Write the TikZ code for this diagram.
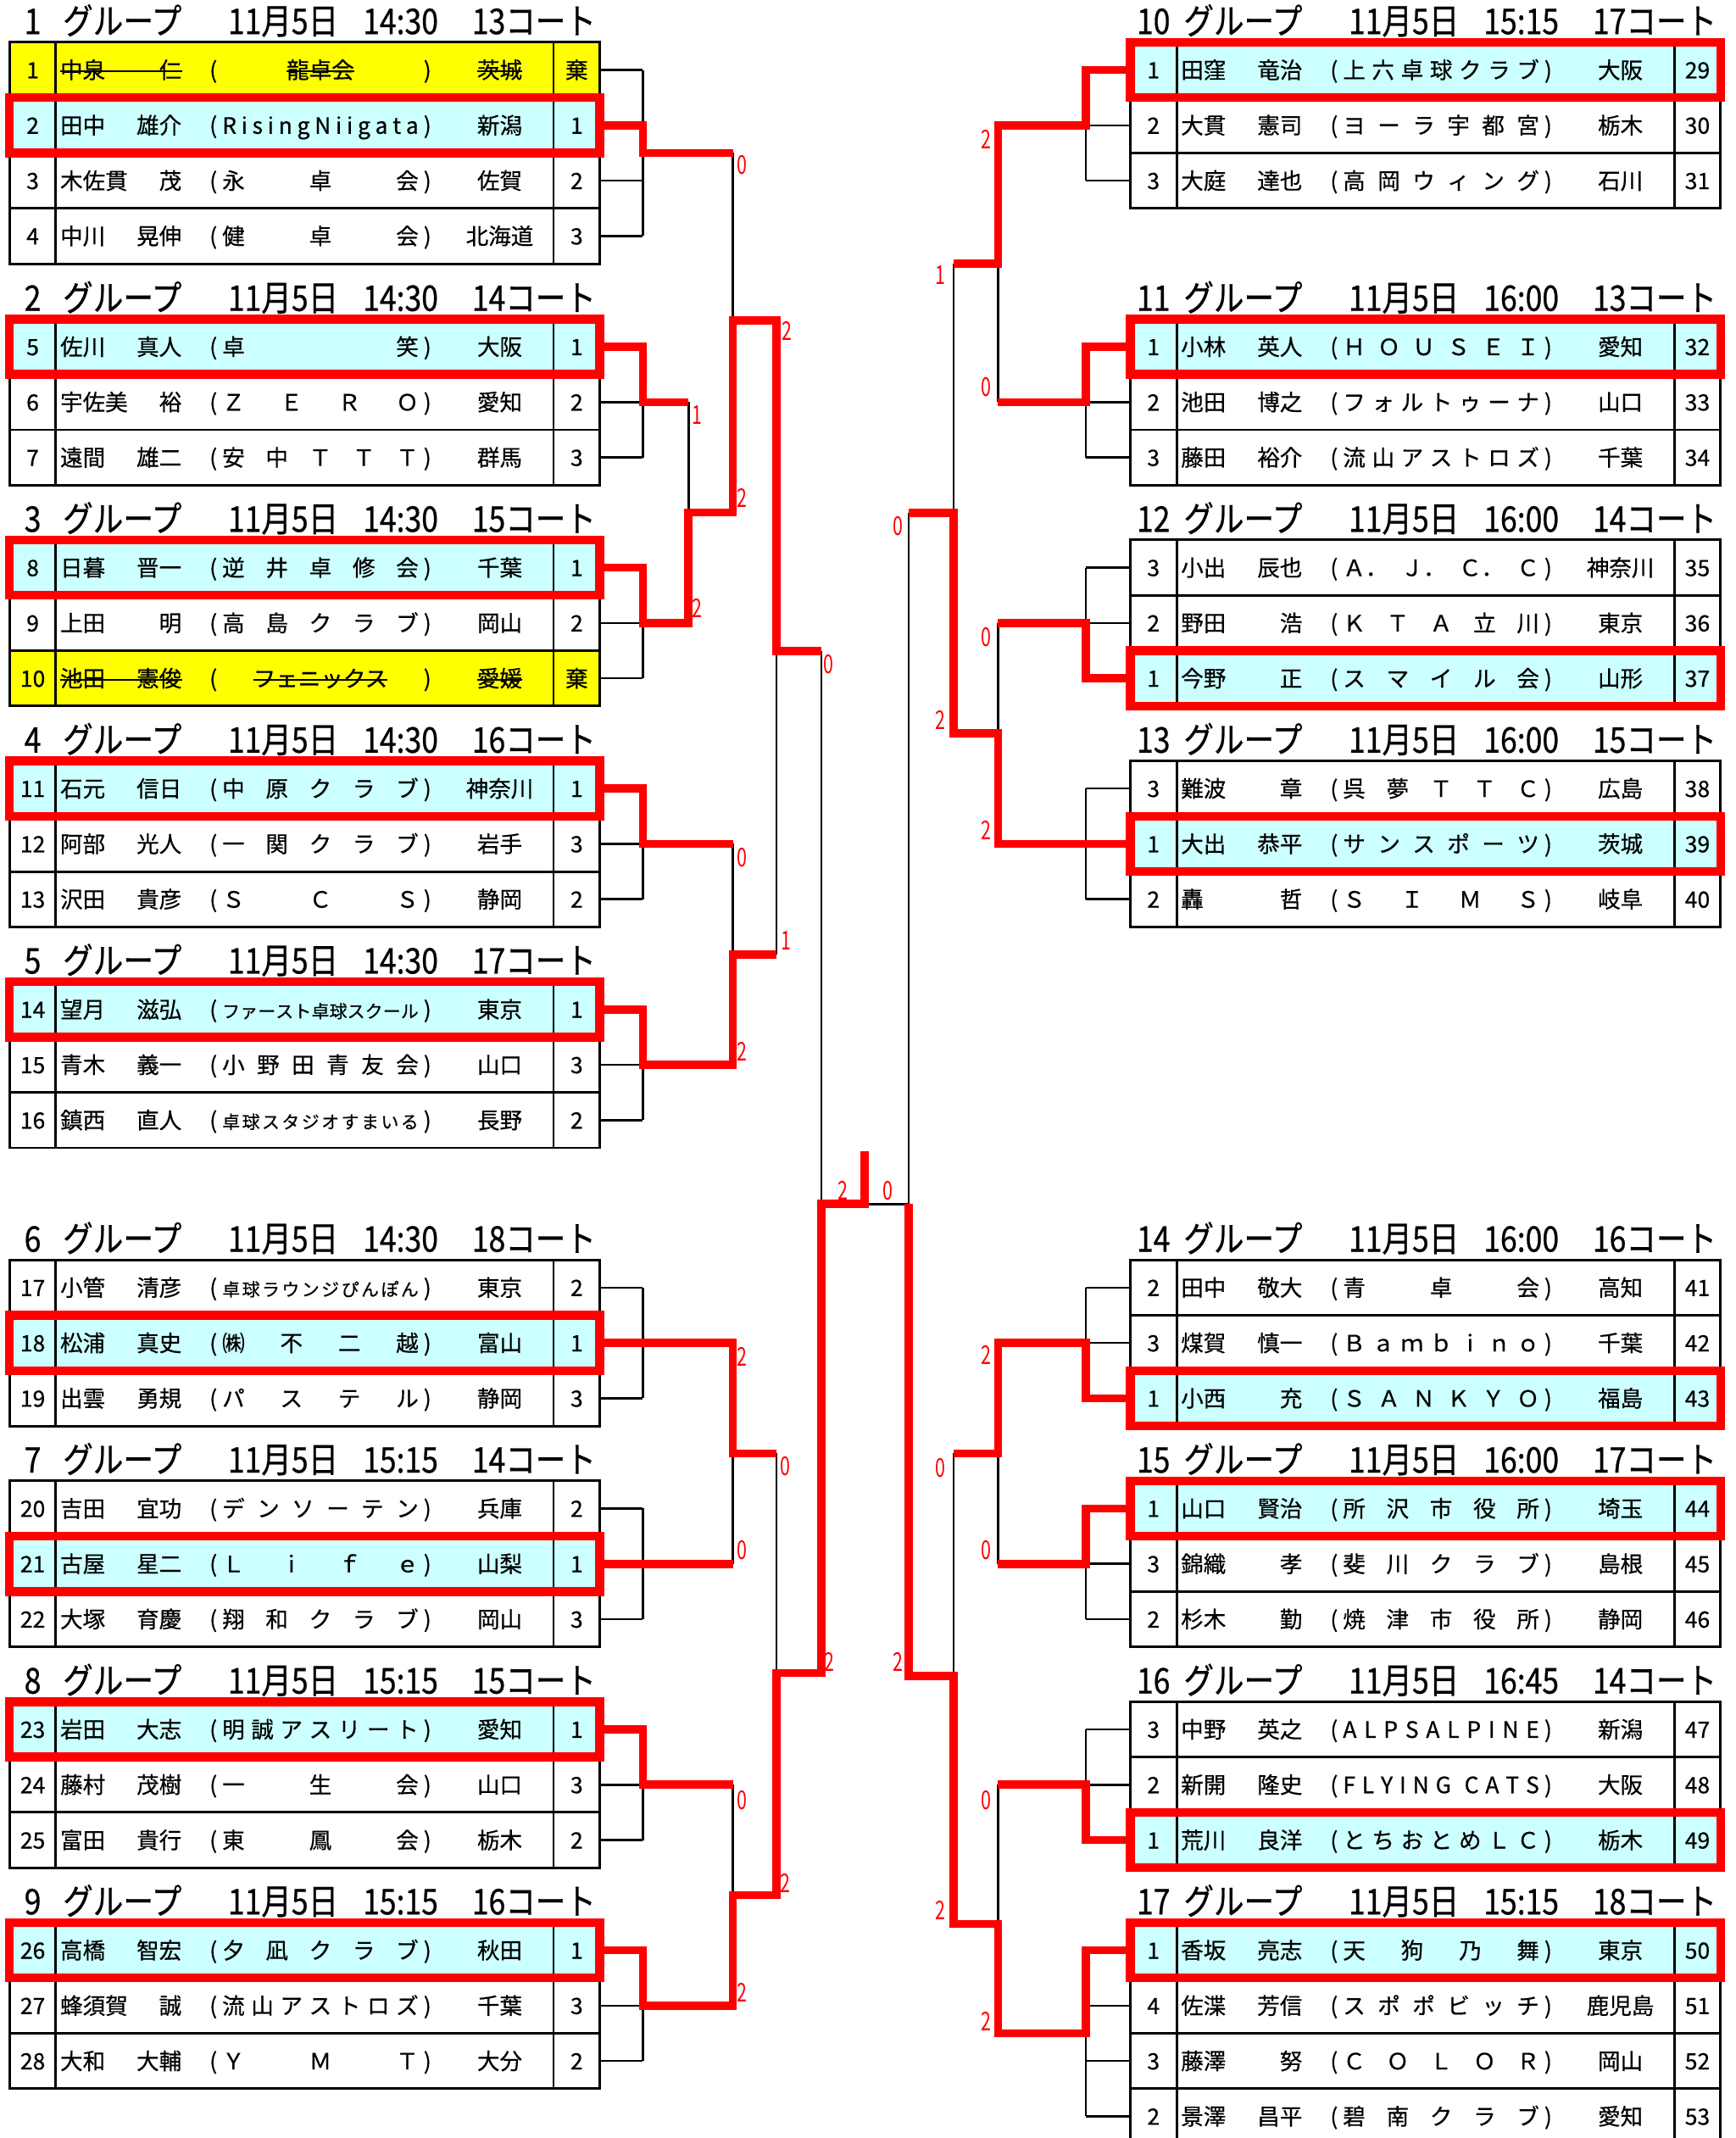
\documentclass[tikz,border=0pt]{standalone}
\usepackage{fontspec}
\setmainfont[FakeBold=0.5]{Noto Sans CJK JP}
\newfontfamily\headfont[FakeStretch=0.85,FakeBold=0.6]{Noto Sans CJK JP}
\newfontfamily\scorefont[FakeStretch=0.7]{Noto Sans CJK JP}
\definecolor{winfill}{RGB}{204,255,255}
\definecolor{byefill}{RGB}{255,255,0}
\pgfdeclarelayer{back}
\pgfdeclarelayer{front}
\pgfsetlayers{back,main,front}

\tikzset{
  cell/.style={inner sep=0pt, font=\fontsize{16.5}{18}\selectfont, text height=12.4pt, text depth=0pt},
  head/.style={inner sep=0pt, font=\headfont\fontsize{26}{28}\selectfont, text height=19pt, text depth=0pt},
  lbl/.style={inner sep=0pt, text=red, font=\scorefont\fontsize{19}{20}\selectfont, text height=13.8pt, text depth=0pt},
  tabln/.style={line width=1.8pt, black},
  thinln/.style={line width=1.6pt, black},
  redln/.style={line width=6pt, red, line join=miter},
  strike/.style={line width=1.2pt, black},
  plainrow/.style={fill=white},
  winrow/.style={fill=winfill},
  byerow/.style={fill=byefill},
  plainrow box/.style={},
  winrow box/.style={draw=red, line width=6.5pt},
  byerow box/.style={}
}

% spread the tokens of #1 evenly over the box
\def\spr#1{\sprstep#1\sprend}
\def\sprstep#1#2\sprend{#1\ifx\relax#2\relax\else\hfill\sprstep#2\sprend\fi}
\newcommand{\smcl}{\fontsize{13}{14}\selectfont}
\newcommand{\strk}[1]{\setbox0\hbox{#1}\rlap{\rule[4.6pt]{\wd0}{1.2pt}}\box0}
\def\xoff{0}

% one row: [kind]{id}{y}{first}{family}{given}{club}{pref}{last}
\newcommand{\prow}[9][plainrow]{%
  \begin{pgfonlayer}{back}
    \fill[#1] ({\xoff+7},{#3-20.3}) rectangle ({\xoff+440},{#3+20.3});
  \end{pgfonlayer}
  \begin{pgfonlayer}{front}
    \path[#1 box] ({\xoff+7},{#3-20.3}) rectangle ({\xoff+440},{#3+20.3});
  \end{pgfonlayer}
  \node[cell] (#2-no) at ({\xoff+24},#3) {#4};
  \node[cell,anchor=west] (#2-nm) at ({\xoff+44},#3) {\makebox[89pt][s]{#5\hfill #6}};
  \node[cell] (#2-lp) at ({\xoff+156.5},#3) {(};
  \node[cell] (#2-cl) at ({\xoff+235},#3) {\makebox[144pt][s]{#7}};
  \node[cell] (#2-rp) at ({\xoff+313.5},#3) {)};
  \node[cell] (#2-pf) at ({\xoff+366.5},#3) {#8};
  \node[cell] (#2-sc) at ({\xoff+423},#3) {#9};
}
% group heading: {id}{y}{group}{time}{court}
\newcommand{\ghead}[5]{%
  \node[head] (#1-no) at ({\xoff+24},#2) {#3};
  \node[head,anchor=west] (#1-gp) at ({\xoff+46},#2) {グループ};
  \node[head,anchor=west] (#1-dt) at ({\xoff+167},#2) {11月5日};
  \node[head,anchor=west] (#1-tm) at ({\xoff+266},#2) {#4};
  \node[head,anchor=west] (#1-ct) at ({\xoff+346},#2) {#5コート};
}
% table grid: {top}{rows}
\newcommand{\gtable}[2]{%
  \foreach \k in {1,...,#2}
    \draw[tabln] ({\xoff+7},{#1+40.6*(\k-1)}) rectangle ({\xoff+440},{#1+40.6*\k});
  \draw[tabln] ({\xoff+41},#1) -- ({\xoff+41},{#1+40.6*#2});
  \draw[tabln] ({\xoff+406},#1) -- ({\xoff+406},{#1+40.6*#2});
}
% group bracket: {table edge}{bracket x}{first row y}{rows}
\newcommand{\grpbr}[4]{%
  \foreach \k in {1,...,#4}
    \draw[thinln] (#1,{#3+40.6*(\k-1)}) -- (#2,{#3+40.6*(\k-1)});
  \draw[thinln] (#2,#3) -- (#2,{#3+40.6*(#4-1)});
}

\begin{document}
\begin{tikzpicture}[x=1pt,y=-1pt]
\begin{pgfonlayer}{back}
\fill[white] (0,0) rectangle (1273,1568);
\end{pgfonlayer}
\useasboundingbox (0,0) rectangle (1273,1568);
\def\xA{471.5}\def\xB{505}\def\xC{537.5}\def\xD{569.5}\def\xE{602.5}\def\xF{634}
\def\xR{796.5}\def\xS{732}\def\xT{699.5}\def\xU{666.5}

% left tables
\def\xoff{0}
\ghead{h1}{15.5}{1}{14:30}{13}
\ghead{h2}{218.5}{2}{14:30}{14}
\ghead{h3}{380.5}{3}{14:30}{15}
\ghead{h4}{542.5}{4}{14:30}{16}
\ghead{h5}{704.5}{5}{14:30}{17}
\ghead{h6}{908.5}{6}{14:30}{18}
\ghead{h7}{1070.5}{7}{15:15}{14}
\ghead{h8}{1232.5}{8}{15:15}{15}
\ghead{h9}{1394.5}{9}{15:15}{16}
\gtable{31}{4}
\foreach \t in {234,396,558,720,924,1086,1248,1410} {\gtable{\t}{3}}
\prow[byerow]{p1}{51.3}{1}{中泉}{仁}{\hfil\strk{龍卓会}\hfil}{茨城}{棄}
\prow[winrow]{p2}{91.9}{2}{田中}{雄介}{\spr{RisingNiigata}}{新潟}{1}
\prow{p3}{132.5}{3}{木佐貫}{茂}{\spr{永卓会}}{佐賀}{2}
\prow{p4}{173.1}{4}{中川}{晃伸}{\spr{健卓会}}{北海道}{3}
\prow[winrow]{p5}{254.3}{5}{佐川}{真人}{\spr{卓笑}}{大阪}{1}
\prow{p6}{294.9}{6}{宇佐美}{裕}{\spr{ＺＥＲＯ}}{愛知}{2}
\prow{p7}{335.5}{7}{遠間}{雄二}{\spr{安中ＴＴＴ}}{群馬}{3}
\prow[winrow]{p8}{416.3}{8}{日暮}{晋一}{\spr{逆井卓修会}}{千葉}{1}
\prow{p9}{456.9}{9}{上田}{明}{\spr{高島クラブ}}{岡山}{2}
\prow[byerow]{p10}{497.5}{10}{池田}{憲俊}{\hfil\strk{フェニックス}\hfil}{愛媛}{棄}
\prow[winrow]{p11}{578.3}{11}{石元}{信日}{\spr{中原クラブ}}{神奈川}{1}
\prow{p12}{618.9}{12}{阿部}{光人}{\spr{一関クラブ}}{岩手}{3}
\prow{p13}{659.5}{13}{沢田}{貴彦}{\spr{ＳＣＳ}}{静岡}{2}
\prow[winrow]{p14}{740.3}{14}{望月}{滋弘}{\smcl\spr{ファースト卓球スクール}}{東京}{1}
\prow{p15}{780.9}{15}{青木}{義一}{\spr{小野田青友会}}{山口}{3}
\prow{p16}{821.5}{16}{鎮西}{直人}{\smcl\spr{卓球スタジオすまいる}}{長野}{2}
\prow{p17}{944.3}{17}{小管}{清彦}{\smcl\spr{卓球ラウンジぴんぽん}}{東京}{2}
\prow[winrow]{p18}{984.9}{18}{松浦}{真史}{\spr{㈱不二越}}{富山}{1}
\prow{p19}{1025.5}{19}{出雲}{勇規}{\spr{パステル}}{静岡}{3}
\prow{p20}{1106.3}{20}{吉田}{宜功}{\spr{デンソーテン}}{兵庫}{2}
\prow[winrow]{p21}{1146.9}{21}{古屋}{星二}{\spr{Ｌｉｆｅ}}{山梨}{1}
\prow{p22}{1187.5}{22}{大塚}{育慶}{\spr{翔和クラブ}}{岡山}{3}
\prow[winrow]{p23}{1268.3}{23}{岩田}{大志}{\spr{明誠アスリート}}{愛知}{1}
\prow{p24}{1308.9}{24}{藤村}{茂樹}{\spr{一生会}}{山口}{3}
\prow{p25}{1349.5}{25}{富田}{貴行}{\spr{東鳳会}}{栃木}{2}
\prow[winrow]{p26}{1430.3}{26}{高橋}{智宏}{\spr{夕凪クラブ}}{秋田}{1}
\prow{p27}{1470.9}{27}{蜂須賀}{誠}{\spr{流山アストロズ}}{千葉}{3}
\prow{p28}{1511.5}{28}{大和}{大輔}{\spr{ＹＭＴ}}{大分}{2}
% withdrawn players
\draw[strike] ([yshift=-1pt]p1-nm.west) -- ([yshift=-1pt]p1-nm.east);
\draw[strike] ([yshift=-1pt]p1-pf.west) -- ([yshift=-1pt]p1-pf.east);
\draw[strike] ([yshift=-1pt]p10-nm.west) -- ([yshift=-1pt]p10-nm.east);
\draw[strike] ([yshift=-1pt]p10-pf.west) -- ([yshift=-1pt]p10-pf.east);

% right tables
\def\xoff{822}
\ghead{h10}{15.5}{10}{15:15}{17}
\ghead{h11}{218.5}{11}{16:00}{13}
\ghead{h12}{380.5}{12}{16:00}{14}
\ghead{h13}{542.5}{13}{16:00}{15}
\ghead{h14}{908.5}{14}{16:00}{16}
\ghead{h15}{1070.5}{15}{16:00}{17}
\ghead{h16}{1232.5}{16}{16:45}{14}
\ghead{h17}{1394.5}{17}{15:15}{18}
\foreach \t in {31,234,396,558,924,1086,1248} {\gtable{\t}{3}}
\gtable{1410}{4}
\prow[winrow]{p29}{51.3}{1}{田窪}{竜治}{\spr{上六卓球クラブ}}{大阪}{29}
\prow{p30}{91.9}{2}{大貫}{憲司}{\spr{ヨーラ宇都宮}}{栃木}{30}
\prow{p31}{132.5}{3}{大庭}{達也}{\spr{高岡ウィング}}{石川}{31}
\prow[winrow]{p32}{254.3}{1}{小林}{英人}{\spr{ＨＯＵＳＥＩ}}{愛知}{32}
\prow{p33}{294.9}{2}{池田}{博之}{\spr{フォルトゥーナ}}{山口}{33}
\prow{p34}{335.5}{3}{藤田}{裕介}{\spr{流山アストロズ}}{千葉}{34}
\prow{p35}{416.3}{3}{小出}{辰也}{\spr{{Ａ．}{Ｊ．}{Ｃ．}{Ｃ}}}{神奈川}{35}
\prow{p36}{456.9}{2}{野田}{浩}{\spr{ＫＴＡ立川}}{東京}{36}
\prow[winrow]{p37}{497.5}{1}{今野}{正}{\spr{スマイル会}}{山形}{37}
\prow{p38}{578.3}{3}{難波}{章}{\spr{呉夢ＴＴＣ}}{広島}{38}
\prow[winrow]{p39}{618.9}{1}{大出}{恭平}{\spr{サンスポーツ}}{茨城}{39}
\prow{p40}{659.5}{2}{轟}{哲}{\spr{ＳＩＭＳ}}{岐阜}{40}
\prow{p41}{944.3}{2}{田中}{敬大}{\spr{青卓会}}{高知}{41}
\prow{p42}{984.9}{3}{煤賀}{慎一}{\spr{Ｂａｍｂｉｎｏ}}{千葉}{42}
\prow[winrow]{p43}{1025.5}{1}{小西}{充}{\spr{ＳＡＮＫＹＯ}}{福島}{43}
\prow[winrow]{p44}{1106.3}{1}{山口}{賢治}{\spr{所沢市役所}}{埼玉}{44}
\prow{p45}{1146.9}{3}{錦織}{孝}{\spr{斐川クラブ}}{島根}{45}
\prow{p46}{1187.5}{2}{杉木}{勤}{\spr{焼津市役所}}{静岡}{46}
\prow{p47}{1268.3}{3}{中野}{英之}{\spr{ALPSALPINE}}{新潟}{47}
\prow{p48}{1308.9}{2}{新開}{隆史}{\spr{FLYING{}CATS}}{大阪}{48}
\prow[winrow]{p49}{1349.5}{1}{荒川}{良洋}{\spr{とちおとめＬＣ}}{栃木}{49}
\prow[winrow]{p50}{1430.3}{1}{香坂}{亮志}{\spr{天狗乃舞}}{東京}{50}
\prow{p51}{1470.9}{4}{佐渫}{芳信}{\spr{スポポビッチ}}{鹿児島}{51}
\prow{p52}{1511.5}{3}{藤澤}{努}{\spr{ＣＯＬＯＲ}}{岡山}{52}
\prow{p53}{1552.1}{2}{景澤}{昌平}{\spr{碧南クラブ}}{愛知}{53}

% group brackets
\foreach \y/\n in {51.3/4,254.3/3,416.3/3,578.3/3,740.3/3,944.3/3,1106.3/3,1268.3/3,1430.3/3} {\grpbr{440}{\xA}{\y}{\n}}
\foreach \y/\n in {51.3/3,254.3/3,416.3/3,578.3/3,944.3/3,1106.3/3,1268.3/3,1430.3/4} {\grpbr{829}{\xR}{\y}{\n}}

% losers' side of each match
\draw[thinln] (\xB,294.9) -- (\xB,375.9);
\draw[thinln] (\xC,112.2) -- (\xC,235);
\draw[thinln] (\xC,618.9) -- (\xC,699.9);
\draw[thinln] (\xD,699.9) -- (\xD,477.5);
\draw[thinln] (\xC,1146.9) -- (\xC,1065.9);
\draw[thinln] (\xC,1308.9) -- (\xC,1389.9);
\draw[thinln] (\xD,1065.9) -- (\xD,1227);
\draw[thinln] (\xE,477.5) -- (\xE,883);
\draw[thinln] (\xS,294.9) -- (\xS,193.4);
\draw[thinln] (\xS,456.9) -- (\xS,537.9);
\draw[thinln] (\xT,193.4) -- (\xT,376);
\draw[thinln] (\xS,1146.9) -- (\xS,1065.9);
\draw[thinln] (\xS,1308.9) -- (\xS,1411);
\draw[thinln] (\xT,1065.9) -- (\xT,1229);
\draw[thinln] (\xU,376) -- (\xU,883) -- (\xF,883);

% winners' paths
\draw[redln] (440,91.9) -- (\xA,91.9) -- (\xA,112.2) -- (\xC,112.2);
\draw[redln] (440,254.3) -- (\xA,254.3) -- (\xA,294.9) -- (\xB,294.9);
\draw[redln] (440,416.3) -- (\xA,416.3) -- (\xA,456.9) -- (\xB,456.9) -- (\xB,375.9) -- (\xC,375.9)
  -- (\xC,235) -- (\xD,235) -- (\xD,477.5) -- (\xE,477.5);
\draw[redln] (440,578.3) -- (\xA,578.3) -- (\xA,618.9) -- (\xC,618.9);
\draw[redln] (440,740.3) -- (\xA,740.3) -- (\xA,780.9) -- (\xC,780.9) -- (\xC,699.9) -- (\xD,699.9);
\draw[redln] (440,984.9) -- (\xC,984.9) -- (\xC,1065.9) -- (\xD,1065.9);
\draw[redln] (440,1146.9) -- (\xC,1146.9);
\draw[redln] (440,1268.3) -- (\xA,1268.3) -- (\xA,1308.9) -- (\xC,1308.9);
\draw[redln] (440,1430.3) -- (\xA,1430.3) -- (\xA,1470.9) -- (\xC,1470.9) -- (\xC,1389.9) -- (\xD,1389.9)
  -- (\xD,1227) -- (\xE,1227) -- (\xE,883) -- (\xF,883) -- (\xF,844);
\draw[redln] (829,51.3) -- (\xR,51.3) -- (\xR,91.9) -- (\xS,91.9) -- (\xS,193.4) -- (\xT,193.4);
\draw[redln] (829,254.3) -- (\xR,254.3) -- (\xR,294.9) -- (\xS,294.9);
\draw[redln] (829,497.5) -- (\xR,497.5) -- (\xR,456.9) -- (\xS,456.9);
\draw[redln] (829,618.9) -- (\xS,618.9) -- (\xS,537.9) -- (\xT,537.9) -- (\xT,376) -- (\xU,376);
\draw[redln] (829,1025.5) -- (\xR,1025.5) -- (\xR,984.9) -- (\xS,984.9) -- (\xS,1065.9) -- (\xT,1065.9);
\draw[redln] (829,1106.3) -- (\xR,1106.3) -- (\xR,1146.9) -- (\xS,1146.9);
\draw[redln] (829,1349.5) -- (\xR,1349.5) -- (\xR,1308.9) -- (\xS,1308.9);
\draw[redln] (829,1430.3) -- (\xR,1430.3) -- (\xR,1491.2) -- (\xS,1491.2) -- (\xS,1411) -- (\xT,1411)
  -- (\xT,1229) -- (\xU,1229) -- (\xU,883);

% match scores
\node[lbl] (s1) at (544,121) {0};
\node[lbl] (s2) at (511.5,304) {1};
\node[lbl] (s3) at (511.5,446) {2};
\node[lbl] (s4) at (544,365) {2};
\node[lbl] (s5) at (544,629) {0};
\node[lbl] (s6) at (544,771) {2};
\node[lbl] (s7) at (577,243) {2};
\node[lbl] (s8) at (576.5,690) {1};
\node[lbl] (s9) at (608,487) {0};
\node[lbl] (s10) at (544,995) {2};
\node[lbl] (s11) at (544,1137) {0};
\node[lbl] (s12) at (576,1075) {0};
\node[lbl] (s13) at (576,1381) {2};
\node[lbl] (s14) at (544,1320) {0};
\node[lbl] (s15) at (544,1461) {2};
\node[lbl] (s16) at (608.5,1219) {2};
\node[lbl] (s17) at (618.5,873) {2};
\node[lbl] (s18) at (651,873) {0};
\node[lbl] (s19) at (723.5,102) {2};
\node[lbl] (s20) at (723.5,284) {0};
\node[lbl] (s21) at (690,202) {1};
\node[lbl] (s22) at (690,528) {2};
\node[lbl] (s23) at (723.5,467) {0};
\node[lbl] (s24) at (723.5,609) {2};
\node[lbl] (s25) at (658.5,386) {0};
\node[lbl] (s26) at (723.5,994) {2};
\node[lbl] (s27) at (723.5,1137) {0};
\node[lbl] (s28) at (690,1076.5) {0};
\node[lbl] (s29) at (690,1401) {2};
\node[lbl] (s30) at (723.5,1320) {0};
\node[lbl] (s31) at (723.5,1482.5) {2};
\node[lbl] (s32) at (658.5,1219) {2};
\end{tikzpicture}
\end{document}
